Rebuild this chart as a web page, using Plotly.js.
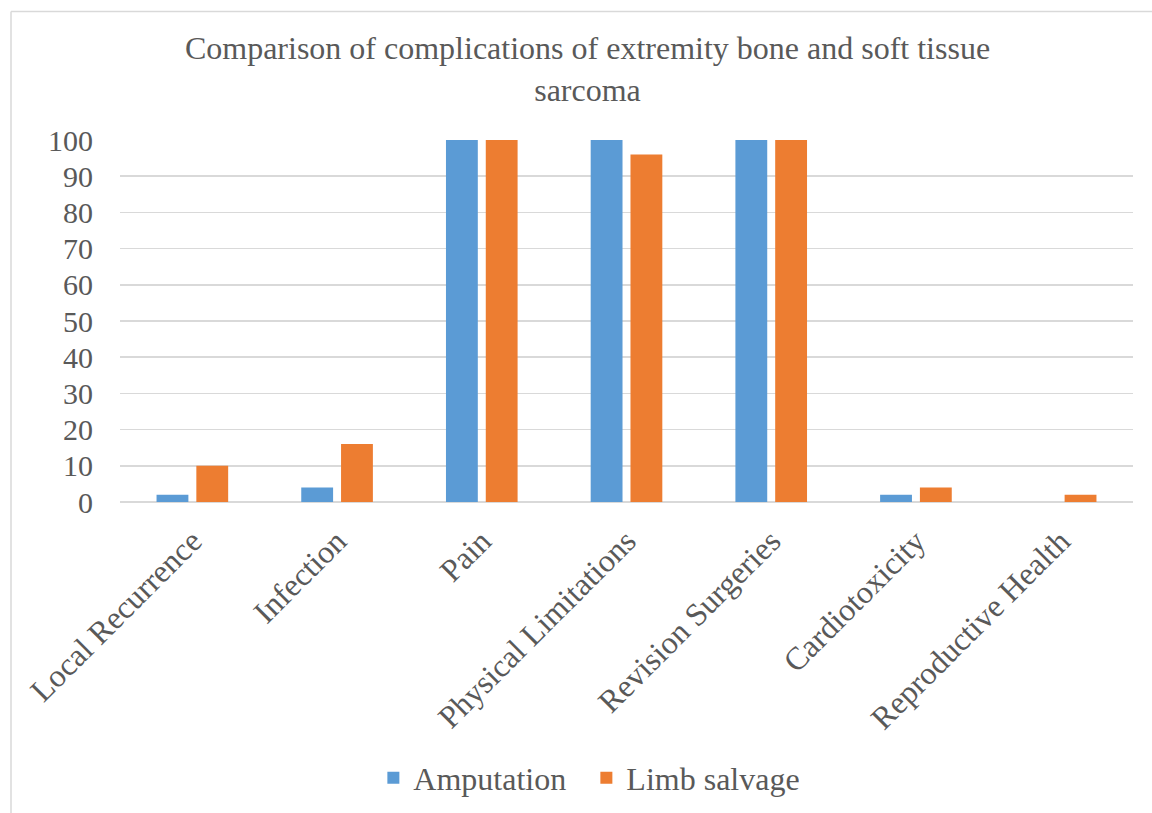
<!DOCTYPE html>
<html>
<head>
<meta charset="utf-8">
<script src="https://cdn.plot.ly/plotly-3.0.1.min.js"></script>
<style>html,body{margin:0;padding:0;background:#fff;}#chart{width:1152px;height:813px;}</style>
</head>
<body>
<div id="chart"></div>
<script>
const categories = ["Local Recurrence", "Infection", "Pain", "Physical Limitations", "Revision Surgeries", "Cardiotoxicity", "Reproductive Health"];
const amputation = [2, 4, 100, 100, 100, 2, 0];
const limbSalvage = [10, 16, 100, 96, 100, 4, 2];
const yTicks = [0, 10, 20, 30, 40, 50, 60, 70, 80, 90, 100];
const seriesNames = ['Amputation', 'Limb salvage'];
const seriesColors = ['#5B9BD5', '#ED7D31'];

const W = 1152, H = 813;
const L = 120, R = 19, T = 140, B = 311;
const pw = W - L - R, ph = H - T - B;
const px = x => (x - L) / pw;
const py = y => (H - B - y) / ph;

const font = "'Liberation Serif', 'Times New Roman', serif";
const txt = '#595959';

const traces = [
  {type: 'bar', name: seriesNames[0], x: categories, y: amputation, showlegend: false,
   marker: {color: seriesColors[0]}},
  {type: 'bar', name: seriesNames[1], x: categories, y: limbSalvage, showlegend: false,
   marker: {color: seriesColors[1]}},
  {type: 'scatter', mode: 'markers', name: seriesNames[0], x: [null], y: [null],
   marker: {symbol: 'square', size: 16, color: seriesColors[0]}},
  {type: 'scatter', mode: 'markers', name: seriesNames[1], x: [null], y: [null],
   marker: {symbol: 'square', size: 16, color: seriesColors[1]}}
];

const layout = {
  width: W, height: H,
  margin: {l: L, r: R, t: T, b: B},
  paper_bgcolor: '#ffffff', plot_bgcolor: '#ffffff',
  barmode: 'group', bargap: 0.45, bargroupgap: 0.2,
  font: {family: font, color: txt},
  title: {text: 'Comparison of complications of extremity bone and soft tissue<br>sarcoma',
          font: {family: font, size: 32, color: txt},
          x: 0.51, xanchor: 'center', xref: 'container',
          y: 1 - 59 / H, yanchor: 'top', yref: 'container'},
  xaxis: {type: 'category', tickangle: -45, tickfont: {family: font, size: 32, color: txt},
          showgrid: false, showline: false, zeroline: false, ticks: '', automargin: false,
          ticklabelstandoff: 13},
  yaxis: {range: [0, 100], tickvals: yTicks, tickfont: {family: font, size: 30, color: txt},
          showgrid: true, gridcolor: '#d9d9d9', gridwidth: 1.5, zeroline: true,
          zerolinecolor: '#d9d9d9', zerolinewidth: 1.5, showline: false,
          ticks: '', ticklabelstandoff: 26, automargin: false, fixedrange: true},
  legend: {orientation: 'h', x: 0.509, xanchor: 'center', xref: 'container',
           y: (H - 778) / H, yanchor: 'middle', yref: 'container',
           font: {family: font, size: 32, color: txt}, itemsizing: 'constant',
           traceorder: 'normal', itemwidth: 30, entrywidth: 168},
  showlegend: true,
  shapes: [
    {type: 'line', xref: 'paper', yref: 'paper', x0: px(11), x1: px(11), y0: py(11.5), y1: py(H + 5),
     line: {color: '#d9d9d9', width: 1.5}},
    {type: 'line', xref: 'paper', yref: 'paper', x0: px(11), x1: px(W + 5), y0: py(11.5), y1: py(11.5),
     line: {color: '#d9d9d9', width: 1.5}}
  ]
};

Plotly.newPlot('chart', traces, layout, {displayModeBar: false, staticPlot: true});
</script>
</body>
</html>
